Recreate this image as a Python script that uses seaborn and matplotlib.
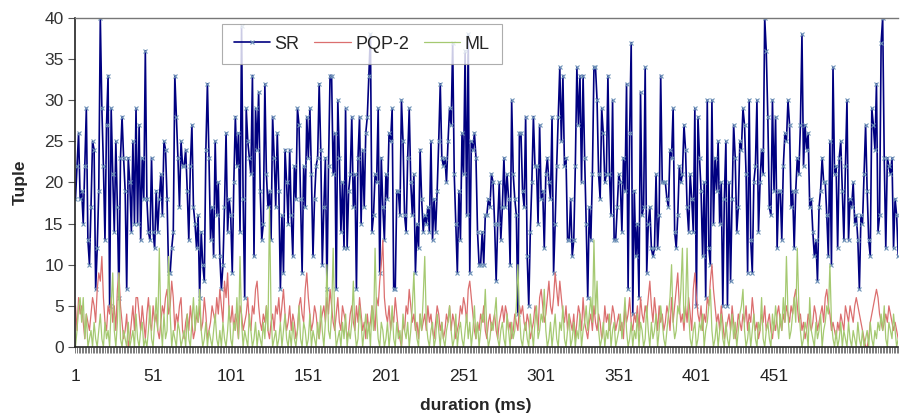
import numpy as np
import matplotlib
matplotlib.use("Agg")
import matplotlib.pyplot as plt
import seaborn as sns

# values (Tuple per ms sample)
sr = [
    18, 22, 26, 18, 19, 15, 22, 29, 13, 10, 17, 25, 24, 7, 12, 19, 40, 29, 22, 13,
    27, 33, 5, 29, 21, 14, 25, 17, 6, 23, 28, 23, 19, 7, 23, 20, 14, 25, 15, 29,
    15, 27, 13, 23, 18, 36, 18, 14, 13, 23, 14, 12, 19, 14, 18, 21, 16, 25, 24, 18,
    9, 9, 12, 14, 33, 28, 23, 17, 25, 22, 22, 24, 19, 13, 22, 27, 17, 15, 12, 16,
    6, 14, 10, 8, 24, 32, 23, 13, 17, 11, 25, 16, 20,
    11, 7, 10, 17, 26, 14, 18, 16, 9, 20, 28, 22, 26, 14, 39, 18, 6, 29, 25, 23,
    21, 33, 11, 29, 24, 31, 19, 13, 15, 32, 21, 17, 19, 13, 28, 23, 17, 26, 19, 7,
    16, 9, 24, 20, 15, 24, 16, 11, 22, 18, 29, 27, 18, 9, 22, 17, 28, 23, 29, 21,
    11, 18, 22, 23, 32, 24, 10, 17, 23, 7, 22, 33, 33, 21, 26, 7, 30, 23, 14, 20,
    12, 29, 12, 19, 21, 28, 17, 21, 7, 23, 28, 15, 24,
    17, 26, 28, 33, 38, 14, 16, 21, 20, 29, 9, 23, 17, 13, 21, 18, 26, 25, 29, 7,
    7, 19, 19, 16, 30, 25, 16, 14, 23, 29, 20, 16, 21, 9, 15, 12, 24, 18, 14, 16,
    15, 17, 14, 25, 13, 18, 14, 19, 25, 32, 23, 22, 23, 20, 25, 29, 27, 37, 21, 15,
    9, 19, 13, 26, 21, 36, 16, 38, 9, 25, 24, 26, 23, 14, 10, 10, 14, 10, 16, 16,
    18, 17, 21, 20, 15, 8, 15, 20, 13, 17, 23, 17, 21,
    18, 10, 30, 21, 18, 16, 4, 26, 26, 19, 17, 28, 11, 5, 14, 20, 28, 22, 22, 15,
    27, 18, 19, 12, 21, 23, 20, 18, 28, 9, 15, 22, 28, 34, 25, 33, 22, 23, 13, 13,
    18, 11, 13, 22, 34, 27, 33, 20, 33, 23, 15, 6, 17, 13, 21, 34, 34, 30, 21, 18,
    29, 26, 20, 21, 33, 21, 16, 30, 13, 13, 17, 21, 20, 14, 23, 19, 32, 7, 26, 37,
    4, 19, 11, 15, 6, 31, 16, 17, 34, 9, 15, 17, 12,
    11, 12, 21, 12, 16, 33, 20, 20, 20, 18, 17, 24, 23, 29, 14, 12, 16, 22, 20, 21,
    27, 24, 17, 14, 21, 18, 14, 29, 5, 28, 23, 19, 11, 20, 6, 30, 12, 10, 30, 15,
    23, 19, 25, 15, 20, 5, 18, 25, 5, 20, 8, 18, 27, 23, 14, 17, 25, 24, 29, 27,
    21, 9, 30, 13, 9, 20, 22, 30, 14, 20, 24, 21, 40, 36, 28, 17, 16, 30, 19, 28,
    12, 19, 19, 13, 22, 26, 25, 30, 27, 17, 19, 12, 19, 23,
    21, 27, 38, 22, 27, 24, 26, 17, 18, 14, 11, 13, 8, 17, 19, 23, 20, 20, 16, 11,
    25, 10, 34, 21, 22, 12, 23, 25, 19, 13, 22, 30, 13, 18, 17, 20, 15, 16, 13, 7,
    16, 15, 21, 27, 19, 13, 11, 29, 27, 24, 32, 14, 16, 37, 40, 23, 12, 23, 22, 21,
    23, 12, 18, 16, 11,
]

pqp2 = [
    5, 2, 6, 4, 5, 3, 1, 4, 3, 2, 4, 6, 5, 3, 7, 9, 8, 11, 6, 3,
    2, 5, 4, 6, 3, 5, 2, 7, 9, 5, 3, 1, 2, 4, 0, 1, 3, 5, 2, 6,
    6, 4, 2, 5, 3, 1, 4, 6, 3, 2, 5, 3, 4, 2, 1, 3, 5, 4, 6, 7,
    4, 5, 8, 6, 2, 4, 3, 5, 6, 2, 1, 3, 4, 2, 5, 3, 1, 2, 4, 3,
    5, 2, 3, 6, 4, 1, 2, 3, 5, 4, 3, 6, 4, 7, 5, 3, 8, 6, 9, 4,
    3, 5, 2, 4, 3, 1, 5, 4, 2, 3, 4, 6, 3, 2, 5, 4, 7, 8, 5, 3,
    2, 4, 3, 5, 2, 1, 3, 4, 2, 5, 4, 6, 3, 5, 7, 4, 2, 3, 5, 2,
    4, 3, 1, 2, 5, 6, 4, 3, 7, 9, 6, 4, 2, 3, 5, 4, 2, 1, 3, 4,
    5, 3, 6, 4, 7, 5, 3, 2, 4, 6, 3, 2, 5, 4, 3, 1, 2, 4, 5, 3,
    2, 5, 3, 6, 4, 2, 3, 1, 4, 2, 3, 5, 4, 2, 6, 5, 8, 10, 13, 6,
    4, 3, 5, 2, 4, 3, 6, 4, 2, 1, 0, 3, 2, 5, 4, 7, 5, 3, 4, 2,
    3, 1, 4, 2, 3, 4, 2, 5, 3, 4, 2, 1, 3, 5, 4, 2, 3, 1, 2, 4,
    3, 5, 2, 4, 3, 1, 2, 3, 5, 4, 6, 5, 3, 7, 8, 6, 4, 2, 1, 3,
    2, 4, 3, 5, 2, 1, 3, 4, 2, 3, 4, 2, 1, 3, 4, 5, 3, 5, 4, 2,
    3, 1, 2, 4, 3, 2, 5, 4, 5, 3, 2, 4, 3, 1, 2, 3, 5, 4, 2, 6,
    7, 5, 3, 4, 6, 8, 5, 4, 6, 9, 7, 5, 8, 6, 4, 3, 5, 2, 4, 3,
    2, 4, 1, 3, 5, 4, 2, 6, 3, 2, 1, 3, 4, 2, 5, 3, 2, 4, 3, 1,
    2, 5, 3, 4, 2, 3, 5, 4, 2, 3, 4, 2, 3, 1, 5, 3, 4, 6, 3, 2,
    4, 3, 5, 2, 6, 4, 3, 5, 4, 6, 8, 5, 3, 6, 4, 2, 5, 3, 4, 2,
    3, 5, 4, 2, 6, 3, 5, 7, 9, 5, 3, 4, 2, 5, 3, 6, 4, 2, 7, 9,
    6, 4, 3, 5, 2, 4, 3, 6, 5, 8, 10, 7, 5, 3, 4, 2, 5, 3, 1, 2,
    3, 4, 2, 5, 3, 1, 2, 4, 3, 2, 4, 3, 5, 2, 4, 3, 6, 4, 2, 3,
    1, 2, 4, 3, 5, 2, 3, 4, 2, 1, 3, 2, 4, 5, 3, 2, 4, 3, 5, 4,
    3, 5, 4, 6, 7, 5, 3, 4, 2, 3, 1, 2, 4, 3, 2, 3, 5, 4, 2, 3,
    4, 5, 3, 6, 7, 5, 4, 2, 3, 2, 1, 3, 2, 4, 3, 2, 5, 4, 3, 5,
    4, 3, 5, 6, 5, 4, 3, 2, 1, 0, 0, 1, 3, 4, 5, 6, 7, 6, 4, 3,
    2, 3, 4, 3, 5, 4, 3, 2, 3, 2, 1,
]

ml = [
    0, 2, 5, 6, 3, 6, 1, 4, 0, 1, 2, 0, 3, 1, 0, 2, 4, 1, 0, 3,
    1, 2, 0, 5, 9, 2, 0, 3, 9, 1, 0, 2, 1, 0, 3, 0, 1, 2, 0, 4,
    1, 0, 2, 3, 0, 1, 0, 2, 5, 1, 0, 3, 6, 2, 12, 3, 0, 4, 1, 2,
    11, 4, 0, 2, 1, 0, 3, 2, 0, 1, 2, 0, 4, 1, 0, 3, 6, 2, 5, 3,
    7, 2, 0, 1, 3, 0, 2, 1, 0, 2, 4, 1, 0, 2, 0, 3, 1, 0, 2, 5,
    1, 0, 3, 2, 6, 1, 11, 3, 0, 2, 1, 0, 4, 2, 0, 1, 3, 0, 2, 1,
    0, 3, 1, 5, 2, 17, 4, 0, 1, 2, 0, 1, 3, 0, 2, 4, 1, 0, 2, 0,
    3, 1, 0, 2, 5, 1, 0, 3, 2, 0, 1, 4, 0, 2, 1, 0, 3, 1, 5, 2,
    0, 3, 10, 2, 1, 4, 12, 3, 0, 1, 2, 0, 3, 1, 4, 0, 2, 1, 3, 8,
    2, 0, 1, 5, 3, 0, 2, 4, 1, 3, 0, 5, 2, 12, 4, 1, 0, 3, 2, 0,
    1, 3, 0, 2, 5, 1, 0, 3, 1, 2, 0, 4, 2, 1, 3, 0, 2, 5, 9, 3,
    1, 0, 4, 2, 6, 11, 3, 1, 0, 2, 3, 0, 1, 4, 2, 0, 3, 1, 0, 2,
    3, 5, 2, 0, 1, 4, 0, 2, 3, 1, 0, 2, 4, 1, 3, 0, 2, 5, 1, 3,
    0, 2, 4, 3, 7, 2, 0, 1, 3, 2, 4, 6, 1, 0, 2, 3, 1, 0, 4, 2,
    0, 3, 1, 2, 5, 10, 4, 1, 0, 2, 3, 1, 0, 4, 2, 0, 3, 5, 1, 2,
    4, 3, 7, 2, 0, 1, 3, 0, 2, 4, 1, 0, 3, 2, 5, 1, 0, 2, 4, 0,
    1, 3, 0, 2, 1, 4, 0, 2, 3, 5, 2, 4, 6, 3, 13, 4, 8, 2, 0, 1,
    3, 0, 2, 1, 4, 0, 2, 3, 0, 1, 2, 4, 1, 3, 6, 2, 0, 1, 3, 0,
    2, 1, 4, 0, 3, 2, 0, 1, 5, 2, 0, 3, 1, 2, 4, 0, 2, 5, 3, 1,
    0, 2, 4, 6, 10, 3, 1, 2, 5, 4, 7, 12, 3, 5, 12, 4, 1, 0, 2, 3,
    0, 1, 3, 2, 4, 0, 2, 3, 5, 7, 2, 0, 1, 3, 0, 2, 4, 1, 0, 3,
    1, 0, 2, 4, 1, 3, 0, 2, 4, 5, 7, 2, 0, 1, 3, 0, 2, 4, 1, 0,
    3, 2, 6, 1, 0, 2, 3, 1, 0, 4, 2, 5, 3, 1, 4, 2, 6, 3, 11, 4,
    1, 2, 4, 6, 3, 12, 5, 2, 0, 1, 3, 2, 0, 6, 2, 1, 0, 3, 1, 2,
    4, 0, 2, 3, 5, 4, 10, 3, 1, 0, 2, 0, 1, 3, 0, 2, 1, 0, 3, 1,
    0, 2, 1, 0, 3, 1, 0, 2, 0, 1, 2, 0, 3, 1, 0, 2, 1, 3, 2, 4,
    2, 5, 1, 0, 3, 2, 1, 4, 2, 0, 1,
]

tick_labels = [1, 51, 101, 151, 201, 251, 301, 351, 401, 451]

sns.set_style("white")
plt.rcParams['font.family'] = ['Liberation Sans', 'DejaVu Sans']

fig = plt.figure(figsize=(9, 4.17), dpi=100)
ax = fig.add_axes([0.083, 0.168, 0.915, 0.789])

sns.lineplot(x=np.arange(1, len(sr) + 1), y=sr, ax=ax, color="#000080", lw=1.2,
             marker="x", markersize=2.5, markeredgecolor="#6f93b8", markeredgewidth=0.8,
             label="SR")
sns.lineplot(x=np.arange(1, len(pqp2) + 1), y=pqp2, ax=ax, color="#db6f6f", lw=0.9,
             label="PQP-2")
sns.lineplot(x=np.arange(1, len(ml) + 1), y=ml, ax=ax, color="#a5c971", lw=0.9,
             label="ML")

ax.set_xlim(0.5, 530.5)
ax.set_ylim(0, 40)
ax.set_yticks(range(0, 41, 5))
ax.set_xticks(tick_labels)
ax.set_xticklabels([str(t) for t in tick_labels],
                   family=['Liberation Sans Narrow', 'Liberation Sans'])
ax.set_xticks(np.arange(1, len(sr) + 1), minor=True)
ax.tick_params(axis="x", which="both", bottom=True, direction="out", length=4,
               width=0.6, color="#666666", labelsize=12.5, pad=12,
               labelcolor="#222222")
ax.tick_params(axis="y", left=True, direction="out", length=5, width=0.8,
               color="#555555", labelsize=12.5, labelcolor="#333333", pad=3)

for side in ["left", "bottom"]:
    ax.spines[side].set_color("#222222")
    ax.spines[side].set_linewidth(1.2)
ax.spines["top"].set_color("#777777")
ax.spines["top"].set_linewidth(1.0)
ax.spines["right"].set_visible(False)

ax.set_ylabel("Tuple", fontsize=12.5, fontweight="bold", labelpad=12)
ax.set_xlabel("duration (ms)", fontsize=12.5, fontweight="bold", labelpad=6)
ax.xaxis.set_label_coords(0.487, -0.155)

leg = ax.legend(loc="upper left", bbox_to_anchor=(0.1786, 0.982), ncol=3,
                frameon=True, fancybox=False, fontsize=13, handlelength=2.0,
                columnspacing=0.85, handletextpad=0.25, borderpad=0.65,
                borderaxespad=0)
leg.get_frame().set_edgecolor("#999999")
leg.get_frame().set_linewidth(0.8)

fig.savefig("out.png", dpi=100)
